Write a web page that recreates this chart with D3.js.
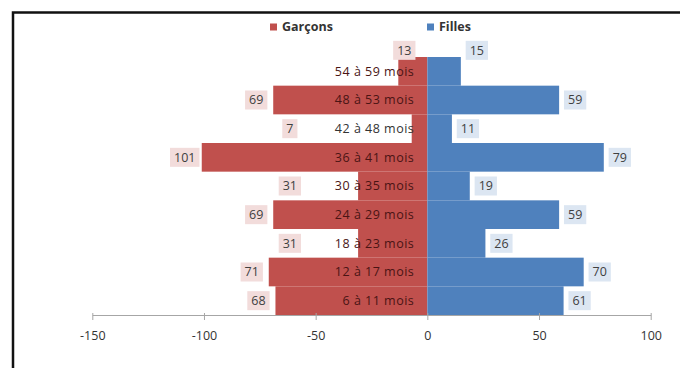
<!DOCTYPE html>
<html>
<head>
<meta charset="utf-8">
<script src="https://cdn.jsdelivr.net/npm/d3@7"></script>
<style>
  body { margin: 0; background: #fff; }
  svg { display: block; }
  text { font-family: "Open Sans", "Liberation Sans", sans-serif; }
</style>
</head>
<body>
<svg id="chart"></svg>
<script>
// data, top row first
var ageGroups = ["54 à 59 mois", "48 à 53 mois", "42 à 48 mois", "36 à 41 mois",
  "30 à 35 mois", "24 à 29 mois", "18 à 23 mois", "12 à 17 mois", "6 à 11 mois"];
var garcons = [13, 69, 7, 101, 31, 69, 31, 71, 68];
var filles = [15, 59, 11, 79, 19, 59, 26, 70, 61];
var xTicks = [-150, -100, -50, 0, 50, 100];
var seriesNames = ["Garçons", "Filles"];

var width = 680,
  height = 368;

var red = "#c0504d",
  blue = "#4f81bd";

var svg = d3.select("#chart").attr("width", width).attr("height", height);

// frame (only top + left edges are visible)
svg.append("path")
  .attr("d", "M13," + height + "V12.5H" + width)
  .attr("fill", "none")
  .attr("stroke", "#111")
  .attr("stroke-width", 2.5);

var x = d3.scaleLinear().domain([-150, 100]).range([92.3, 650.7]);
var y = d3.scaleBand().domain(ageGroups).range([57, 315]).padding(0);

// bars
var rows = ageGroups.map(function (g, i) {
  return { group: g, g: garcons[i], f: filles[i], i: i };
});

svg.append("g").selectAll("rect")
  .data(rows)
  .enter()
  .append("rect")
  .attr("x", function (d) { return x(-d.g); })
  .attr("y", function (d) { return y(d.group); })
  .attr("width", function (d) { return x(0) - x(-d.g); })
  .attr("height", y.bandwidth())
  .attr("fill", red);

svg.append("g").selectAll("rect")
  .data(rows)
  .enter()
  .append("rect")
  .attr("x", x(0))
  .attr("y", function (d) { return y(d.group); })
  .attr("width", function (d) { return x(d.f) - x(0); })
  .attr("height", y.bandwidth())
  .attr("fill", blue);

// axis
var axis = svg.append("g")
  .attr("transform", "translate(0," + y.range()[1] + ")")
  .call(d3.axisBottom(x).tickValues(xTicks).tickSize(5).tickSizeOuter(0).tickFormat(d3.format("d")));
axis.select(".domain").attr("stroke", "#a6a6a6");
axis.selectAll(".tick line").attr("stroke", "#a6a6a6").attr("y1", -2);
axis.selectAll(".tick text")
  .attr("y", 16)
  .attr("fill", "#333")
  .style("font-size", "12.5px")
  .style("font-family", "'Open Sans', sans-serif")
  .text(function (d) { return d < 0 ? "-" + Math.abs(d) : d; });

// category labels, right aligned near the centre line
var catRight = x(0) - 13;
var cats = svg.append("g").selectAll("text")
  .data(rows)
  .enter()
  .append("text")
  .attr("x", catRight)
  .attr("y", function (d) { return y(d.group) + y.bandwidth() / 2; })
  .attr("dy", "0.35em")
  .attr("text-anchor", "end")
  .attr("fill", function (d) { return d.g * 2.233 > 20 ? "#4a1414" : "#333"; })
  .style("font-size", "12.5px")
  .style("letter-spacing", "0.5px")
  .text(function (d) { return d.group; });

var catWidth = [];
cats.each(function (d) { catWidth[d.i] = this.getComputedTextLength(); });

// value labels with tinted boxes
function labelBox(sel, fill) {
  sel.each(function (d) {
    var g = d3.select(this);
    var t = g.select("text");
    var w = t.node().getComputedTextLength() + 8;
    g.insert("rect", "text")
      .attr("x", -w / 2)
      .attr("y", -9.5)
      .attr("width", w)
      .attr("height", 19)
      .attr("fill", fill);
  });
}

function labelY(d) {
  var cy = y(d.group) + y.bandwidth() / 2;
  // top row labels were pushed up above the bars
  return d.i === 0 ? cy - 21 : cy;
}

var gLabels = svg.append("g").selectAll("g")
  .data(rows)
  .enter()
  .append("g")
  .attr("transform", function (d) {
    var end = x(-d.g);
    var cx;
    if (d.i === 0) cx = end + 6;
    else if (end > catRight - catWidth[d.i] - 20) cx = catRight - catWidth[d.i] - 45;
    else cx = end - 17;
    return "translate(" + cx + "," + labelY(d) + ")";
  });
gLabels.append("text")
  .attr("text-anchor", "middle")
  .attr("dy", "0.35em")
  .attr("fill", "#404040")
  .style("font-size", "12.5px")
  .text(function (d) { return d.g; });
labelBox(gLabels, "#f2dcdb");

var fLabels = svg.append("g").selectAll("g")
  .data(rows)
  .enter()
  .append("g")
  .attr("transform", function (d) {
    return "translate(" + (x(d.f) + 16) + "," + labelY(d) + ")";
  });
fLabels.append("text")
  .attr("text-anchor", "middle")
  .attr("dy", "0.35em")
  .attr("fill", "#404040")
  .style("font-size", "12.5px")
  .text(function (d) { return d.f; });
labelBox(fLabels, "#dce6f2");

// legend
var legend = svg.append("g").selectAll("g")
  .data(seriesNames)
  .enter()
  .append("g")
  .attr("transform", function (d, i) { return "translate(" + (i === 0 ? 270 : 427) + ",27)"; });
legend.append("rect")
  .attr("x", 0)
  .attr("y", -3.5)
  .attr("width", 7)
  .attr("height", 7)
  .attr("fill", function (d, i) { return i === 0 ? red : blue; });
legend.append("text")
  .attr("x", 12)
  .attr("dy", "0.35em")
  .attr("fill", "#333")
  .style("font-size", "12.5px")
  .style("font-weight", "bold")
  .text(function (d) { return d; });
</script>
</body>
</html>
